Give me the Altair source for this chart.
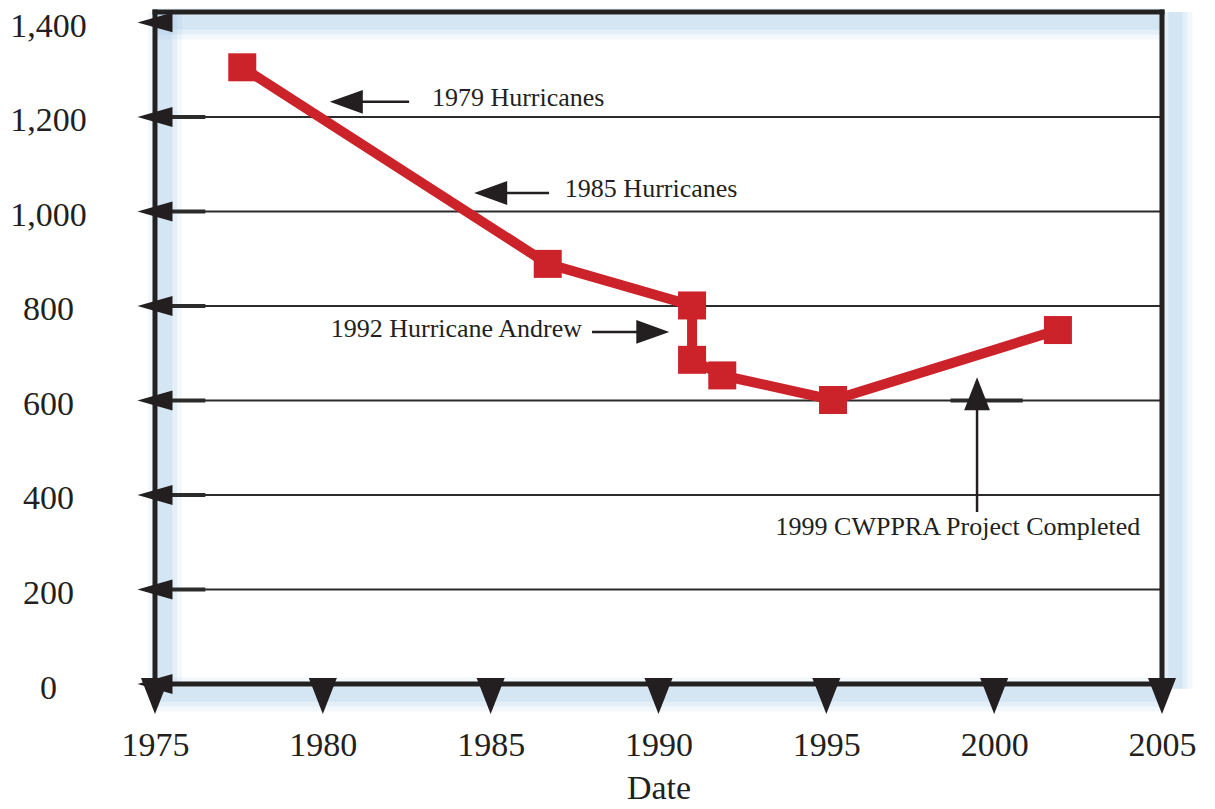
import altair as alt
import pandas as pd

# ---- data ----
years = [1977.6, 1986.7, 1991.0, 1991.0, 1991.9, 1995.2, 2001.9]
acres = [1305, 889, 801, 686, 653, 601, 749]

x_ticks = [1975, 1980, 1985, 1990, 1995, 2000, 2005]
y_ticks = [0, 200, 400, 600, 800, 1000, 1200, 1400]
grid_values = [200, 400, 600, 800, 1000, 1200]

note_text = ["1979 Hurricanes", "1985 Hurricanes", "1992 Hurricane Andrew",
             "1999 CWPPRA Project Completed"]
note_x = [1983.25, 1987.21, 1987.72, 1998.92]
note_y = [1240, 1048, 751, 332]
note_align = ["left", "left", "right", "center"]

arrow_tail_x = [1982.57, 1986.74, 1988.02, 1999.49]
arrow_tail_y = [1232, 1039, 745, 364]
arrow_head_x = [1980.7, 1985.0, 1989.83, 1999.49]
arrow_head_y = [1232, 1039, 745, 614]
arrow_dir = ["left", "left", "right", "up"]

# short heavier segments drawn over the grid lines
stub_x0 = [1975] * 6 + [1998.7]
stub_x1 = [1976.5] * 6 + [2000.85]
stub_y = grid_values + [600]

X_MIN, X_MAX = 1975, 2005
Y_MIN, Y_MAX = 0, 1422

FONT = "Liberation Serif"
INK = "#231f20"
RED = "#cc2229"
GLOW = "#8db6e2"

xs = alt.Scale(domain=[X_MIN, X_MAX], nice=False, zero=False)
ys = alt.Scale(domain=[Y_MIN, Y_MAX], nice=False)

series = pd.DataFrame({"year": years, "acres": acres, "order": list(range(len(years)))})
grid = pd.DataFrame({"v": grid_values, "x0": [X_MIN] * len(grid_values),
                     "x1": [X_MAX] * len(grid_values)})
stubs = pd.DataFrame({"x0": stub_x0, "x1": stub_x1, "v": stub_y})
ytick_df = pd.DataFrame({"v": y_ticks, "x": [X_MIN] * len(y_ticks)})
xtick_df = pd.DataFrame({"x": x_ticks, "v": [0] * len(x_ticks)})
notes = pd.DataFrame({"text": note_text, "x": note_x, "y": note_y, "align": note_align})
arrows = pd.DataFrame({"tx": arrow_tail_x, "ty": arrow_tail_y,
                       "hx": arrow_head_x, "hy": arrow_head_y, "dir": arrow_dir})

# frame edges (x, x2, y, y2)
frame = pd.DataFrame({
    "x0": [X_MIN, X_MAX, X_MIN, X_MIN],
    "x1": [X_MIN, X_MAX, X_MAX, X_MAX],
    "y0": [Y_MIN, Y_MIN, Y_MAX, Y_MIN],
    "y1": [Y_MAX, Y_MAX, Y_MAX, Y_MIN],
})
# soft blue glow bands along the frame
glow = pd.DataFrame({
    "x0": [X_MIN + 0.3, X_MAX + 0.4, X_MIN, X_MIN],
    "x1": [X_MIN + 0.3, X_MAX + 0.4, X_MAX, X_MAX],
    "y0": [Y_MIN, Y_MIN - 10, Y_MAX - 22, Y_MIN - 22],
    "y1": [Y_MAX, Y_MAX, Y_MAX - 22, Y_MIN - 22],
})

LEFT_PATH = "M -1 0 L 1 -0.72 L 1 0.72 Z"
RIGHT_PATH = "M 1 0 L -1 -0.72 L -1 0.72 Z"
UP_PATH = "M 0 -1 L 0.78 1 L -0.78 1 Z"
YARROW_PATH = "M -1 0 L 1 -0.57 L 1 0.57 Z"
XARROW_PATH = "M -0.78 -0.33 L 0.78 -0.33 L 0 1.67 Z"

base_x_axis = alt.Axis(values=x_ticks, format="d", title="Date", grid=False,
                       ticks=False, tickSize=0, domain=False, labelFontSize=34,
                       labelFont=FONT, labelColor=INK, labelPadding=44,
                       titleFont=FONT, titleFontSize=34, titleFontWeight="normal",
                       titleColor=INK, titlePadding=9, labelFlush=False)
base_y_axis = alt.Axis(values=y_ticks, format=",d", title=None, grid=False,
                       ticks=False, tickSize=0, domain=False, labelFontSize=34,
                       labelFont=FONT, labelColor=INK, labelAlign="center",
                       labelPadding=107, labelOffset=4, labelFlush=False)

glow_layers = [
    alt.Chart(glow).mark_rule(color=GLOW, strokeWidth=w, opacity=o, strokeCap="butt").encode(
        x=alt.X("x0:Q", scale=xs), x2="x1:Q", y=alt.Y("y0:Q", scale=ys), y2="y1:Q")
    for w, o in [(34, 0.10), (24, 0.14), (14, 0.18)]
]

gridlines = alt.Chart(grid).mark_rule(color="#2b2b2b", strokeWidth=2).encode(
    x=alt.X("x0:Q", scale=xs, axis=base_x_axis),
    x2="x1:Q",
    y=alt.Y("v:Q", scale=ys, axis=base_y_axis),
)
grid_stubs = alt.Chart(stubs).mark_rule(color="#2b2b2b", strokeWidth=4).encode(
    x=alt.X("x0:Q", scale=xs), x2="x1:Q", y=alt.Y("v:Q", scale=ys))

frame_lines = alt.Chart(frame).mark_rule(color="#222222", strokeWidth=5,
                                         strokeCap="square").encode(
    x=alt.X("x0:Q", scale=xs), x2="x1:Q", y=alt.Y("y0:Q", scale=ys), y2="y1:Q")

y_arrows = alt.Chart(ytick_df).mark_point(shape=YARROW_PATH, size=1225, filled=True,
                                           color=INK, opacity=1, clip=False).encode(
    x=alt.X("x:Q", scale=xs), y=alt.Y("v:Q", scale=ys))
x_arrows = alt.Chart(xtick_df).mark_point(shape=XARROW_PATH, size=1296, filled=True,
                                           color=INK, opacity=1, clip=False).encode(
    x=alt.X("x:Q", scale=xs), y=alt.Y("v:Q", scale=ys))

line = alt.Chart(series).mark_line(color=RED, strokeWidth=10).encode(
    x=alt.X("year:Q", scale=xs), y=alt.Y("acres:Q", scale=ys), order="order:Q")
markers = alt.Chart(series).mark_point(shape="square", size=784, filled=True,
                                       color=RED, opacity=1).encode(
    x=alt.X("year:Q", scale=xs), y=alt.Y("acres:Q", scale=ys))

arrow_lines = alt.Chart(arrows).mark_rule(color=INK, strokeWidth=2.5).encode(
    x=alt.X("tx:Q", scale=xs), x2="hx:Q", y=alt.Y("ty:Q", scale=ys), y2="hy:Q")
arrow_heads = alt.Chart(arrows).mark_point(filled=True, size=1090, color=INK,
                                           opacity=1).encode(
    x=alt.X("hx:Q", scale=xs), y=alt.Y("hy:Q", scale=ys),
    shape=alt.Shape("dir:N", scale=alt.Scale(domain=["left", "right", "up"],
                                             range=[LEFT_PATH, RIGHT_PATH, UP_PATH]),
                    legend=None))

def note_layer(al):
    return alt.Chart(notes).transform_filter(alt.datum.align == al).mark_text(
        align=al, baseline="middle", font=FONT, fontSize=26, color=INK).encode(
        x=alt.X("x:Q", scale=xs), y=alt.Y("y:Q", scale=ys), text="text:N")

chart = alt.layer(
    *glow_layers,
    gridlines, grid_stubs,
    frame_lines,
    line, markers,
    arrow_lines, arrow_heads,
    note_layer("left"), note_layer("right"), note_layer("center"),
    y_arrows, x_arrows,
).properties(
    width=1007, height=672,
    autosize=alt.AutoSizeParams(type="none"),
    padding={"left": 147, "top": 4, "right": 40, "bottom": 120},
).configure_view(
    strokeWidth=0
).configure(background="white")

chart.save("out.html", embed_options={"renderer": "svg", "actions": False})
